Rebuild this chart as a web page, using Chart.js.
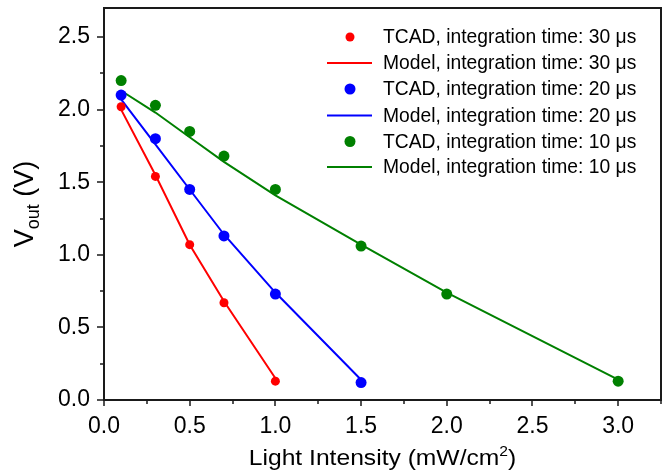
<!DOCTYPE html>
<html>
<head>
<meta charset="utf-8">
<script src="https://cdn.jsdelivr.net/npm/chart.js@4.4.1/dist/chart.umd.min.js"></script>
<style>
  html, body { margin: 0; padding: 0; background: #fff; }
  #wrap { width: 669px; height: 473px; }
</style>
</head>
<body>
<div id="wrap"><canvas id="vChart" width="669" height="473"></canvas></div>
<script>
// light intensity (mW/cm2) and Vout (V)
const tcad30X = [0.1, 0.3, 0.5, 0.7, 1.0];
const tcad30Y = [2.02, 1.54, 1.07, 0.67, 0.13];
const model30X = [0.1, 0.3, 0.5, 0.7, 1.0];
const model30Y = [2.00, 1.55, 1.07, 0.68, 0.15];

const tcad20X = [0.1, 0.3, 0.5, 0.7, 1.0, 1.5];
const tcad20Y = [2.10, 1.80, 1.45, 1.13, 0.73, 0.12];
const model20X = [0.1, 0.3, 0.5, 0.7, 1.0, 1.5];
const model20Y = [2.07, 1.76, 1.45, 1.14, 0.74, 0.14];

const tcad10X = [0.1, 0.3, 0.5, 0.7, 1.0, 1.5, 2.0, 3.0];
const tcad10Y = [2.20, 2.03, 1.85, 1.68, 1.45, 1.06, 0.73, 0.13];
const model10X = [0.1, 0.3, 0.5, 0.7, 1.0, 1.5, 2.0, 3.0];
const model10Y = [2.13, 1.98, 1.81, 1.64, 1.41, 1.07, 0.74, 0.14];

const labels = [
  'TCAD, integration time: 30 \u03bcs',
  'Model, integration time: 30 \u03bcs',
  'TCAD, integration time: 20 \u03bcs',
  'Model, integration time: 20 \u03bcs',
  'TCAD, integration time: 10 \u03bcs',
  'Model, integration time: 10 \u03bcs'
];
const colors = ['#ff0000', '#ff0000', '#0000ff', '#0000ff', '#008000', '#008000'];

const xMajor = [0, 0.5, 1.0, 1.5, 2.0, 2.5, 3.0];
const yMajor = [0, 0.5, 1.0, 1.5, 2.0, 2.5];

const FONT = 'Arial, "Liberation Sans", sans-serif';

function pts(xs, ys) {
  return xs.map((x, i) => ({ x: x, y: ys[i] }));
}

function tcadSet(i, xs, ys, r) {
  return {
    label: labels[i], data: pts(xs, ys), showLine: false,
    backgroundColor: colors[i], borderColor: colors[i],
    pointRadius: r, pointBorderWidth: 0, order: 0
  };
}
function modelSet(i, xs, ys) {
  return {
    label: labels[i], data: pts(xs, ys), showLine: true,
    borderColor: colors[i], backgroundColor: colors[i],
    borderWidth: 2, pointRadius: 0, tension: 0, order: 1
  };
}

function noPad(s) {
  s.paddingTop = 0; s.paddingBottom = 0; s.paddingLeft = 0; s.paddingRight = 0;
}

// frame, minor ticks, axis titles, legend
const decor = {
  id: 'decor',
  afterDraw(chart) {
    const ctx = chart.ctx;
    const a = chart.chartArea;
    const xs = chart.scales.x, ys = chart.scales.y;
    ctx.save();
    ctx.strokeStyle = '#1a1a1a';
    ctx.lineWidth = 2;
    ctx.strokeRect(a.left, a.top, a.right - a.left, a.bottom - a.top);

    ctx.lineWidth = 1.5;
    ctx.beginPath();
    for (let v = 0; v <= 3.25 + 1e-9; v += 0.25) {
      const px = Math.round(xs.getPixelForValue(v));
      const major = Math.abs(v * 2 - Math.round(v * 2)) < 1e-6;
      ctx.moveTo(px, a.bottom);
      ctx.lineTo(px, a.bottom + (major ? 6 : 4));
    }
    for (let v = 0; v <= 2.7 + 1e-9; v += 0.25) {
      const py = Math.round(ys.getPixelForValue(v));
      const major = Math.abs(v * 2 - Math.round(v * 2)) < 1e-6;
      ctx.moveTo(a.left, py);
      ctx.lineTo(a.left - (major ? 7 : 4), py);
    }
    ctx.stroke();

    // x title (slightly wide lettering, as in the figure)
    ctx.fillStyle = '#000';
    ctx.textBaseline = 'alphabetic';
    ctx.textAlign = 'left';
    const t1 = 'Light Intensity (mW/cm', t3 = ')';
    ctx.font = '22px ' + FONT;
    const w1 = ctx.measureText(t1).width, w3 = ctx.measureText(t3).width;
    ctx.font = '14px ' + FONT;
    const w2 = ctx.measureText('2').width;
    const sxw = 1.12;
    ctx.save();
    ctx.translate((a.left + a.right) / 2 - sxw * (w1 + w2 + w3) / 2, 465);
    ctx.scale(sxw, 1);
    ctx.font = '22px ' + FONT;
    ctx.fillText(t1, 0, 0);
    ctx.font = '14px ' + FONT;
    ctx.fillText('2', w1, -9);
    ctx.font = '22px ' + FONT;
    ctx.fillText(t3, w1 + w2, 0);
    ctx.restore();

    // y title
    ctx.save();
    ctx.translate(33, (a.top + a.bottom) / 2);
    ctx.rotate(-Math.PI / 2);
    ctx.font = '27px ' + FONT;
    const v1 = ctx.measureText('V').width;
    const v3 = ctx.measureText(' (V)').width;
    ctx.font = '18px ' + FONT;
    const v2 = ctx.measureText('out').width;
    const ty = -(v1 + v2 + v3) / 2;
    ctx.font = '27px ' + FONT;
    ctx.fillText('V', ty, 0);
    ctx.font = '18px ' + FONT;
    ctx.fillText('out', ty + v1, 6);
    ctx.font = '27px ' + FONT;
    ctx.fillText(' (V)', ty + v1 + v2, 0);
    ctx.restore();

    // legend
    const rowY = [37, 63, 89, 115.5, 141.5, 167];
    ctx.font = '19.3px ' + FONT;
    ctx.textBaseline = 'middle';
    chart.data.datasets.forEach((ds, i) => {
      const y = rowY[i];
      if (ds.showLine) {
        ctx.strokeStyle = ds.borderColor;
        ctx.lineWidth = 2;
        ctx.beginPath();
        ctx.moveTo(327, y);
        ctx.lineTo(372, y);
        ctx.stroke();
      } else {
        ctx.fillStyle = ds.backgroundColor;
        ctx.beginPath();
        ctx.arc(350, y, ds.pointRadius, 0, Math.PI * 2);
        ctx.fill();
      }
      ctx.fillStyle = '#000';
      ctx.fillText(ds.label, 383, y + 1);
    });
    ctx.restore();
  }
};

window.onload = function() {
  const ctx = document.getElementById('vChart').getContext('2d');
  new Chart(ctx, {
    type: 'scatter',
    data: {
      datasets: [
        tcadSet(0, tcad30X, tcad30Y, 4.5),
        modelSet(1, model30X, model30Y),
        tcadSet(2, tcad20X, tcad20Y, 5.5),
        modelSet(3, model20X, model20Y),
        tcadSet(4, tcad10X, tcad10Y, 5.5),
        modelSet(5, model10X, model10Y)
      ]
    },
    options: {
      responsive: false,
      animation: false,
      layout: { padding: { left: 0, right: 8, top: 8, bottom: 0 } },
      plugins: { legend: { display: false }, tooltip: { enabled: false } },
      scales: {
        x: {
          type: 'linear', min: 0, max: 3.25,
          afterFit: s => { s.height = 73; noPad(s); },
          afterBuildTicks: s => { s.ticks = xMajor.map(v => ({ value: v })); },
          grid: { display: false, drawTicks: false },
          border: { display: false },
          ticks: {
            padding: 13, color: '#000', font: { family: FONT, size: 23 },
            maxRotation: 0, callback: v => v.toFixed(1)
          }
        },
        y: {
          type: 'linear', min: 0, max: 2.7,
          afterFit: s => { s.width = 104; noPad(s); },
          afterBuildTicks: s => { s.ticks = yMajor.map(v => ({ value: v })); },
          grid: { display: false, drawTicks: false },
          border: { display: false },
          ticks: {
            padding: 14, color: '#000', font: { family: FONT, size: 23 },
            callback: v => v.toFixed(1)
          }
        }
      }
    },
    plugins: [decor]
  });
};
</script>
</body>
</html>
